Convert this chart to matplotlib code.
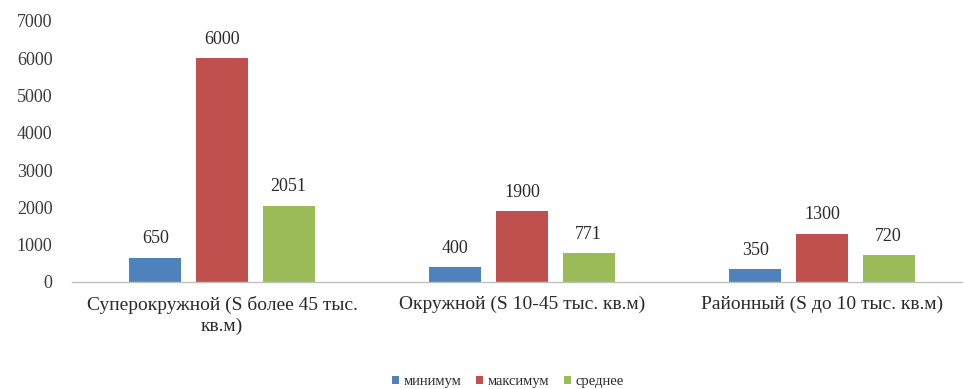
import matplotlib
matplotlib.use("Agg")
import matplotlib.pyplot as plt
import numpy as np

# Данные по типам торговых центров
categories = ["Суперокружной (S более 45 тыс.\nкв.м)",
              "Окружной (S 10-45 тыс. кв.м)",
              "Районный (S до 10 тыс. кв.м)"]
series_names = ["минимум", "максимум", "среднее"]
minimum = [650, 400, 350]
maximum = [6000, 1900, 1300]
average = [2051, 771, 720]
y_ticks = [0, 1000, 2000, 3000, 4000, 5000, 6000, 7000]

colors = ["#4F81BD", "#C0504D", "#9BBB59"]

plt.rcParams['font.family'] = ['Liberation Serif', 'DejaVu Serif']

fig = plt.figure(figsize=(9.64, 3.89), dpi=100)
W, H = 964, 389
ax = fig.add_axes([72 / W, (H - 282) / H, (962 - 72) / W, (282 - 21) / H])

x = np.arange(len(categories))
width = 0.173
step = 0.222
for i, (vals, name) in enumerate(zip([minimum, maximum, average], series_names)):
    pos = x + (i - 1) * step
    bars = ax.bar(pos, vals, width, color=colors[i], label=name)
    for b, v in zip(bars, vals):
        ax.text(b.get_x() + b.get_width() / 2, v + 280, str(v),
                ha="center", va="bottom", fontsize=13, color="#2a2a2a")

ax.set_xlim(-0.5, -0.5 + 890 / 300)
ax.set_ylim(0, 7000)
ax.set_yticks(y_ticks)
ax.set_yticklabels([str(t) for t in y_ticks], fontsize=13, color="#3a3a3a")
ax.set_xticks(x)
ax.set_xticklabels(categories, fontsize=14, color="#2a2a2a", linespacing=1.3)
ax.tick_params(axis="y", length=0, pad=14)
ax.tick_params(axis="x", length=0, pad=10)

for s in ["top", "right", "left"]:
    ax.spines[s].set_visible(False)
ax.spines["bottom"].set_color("#BFBFBF")
ax.spines["bottom"].set_linewidth(1.0)

fig.legend(loc="center", bbox_to_anchor=(508 / W, 1 - 382 / H), ncol=3,
           frameon=False, fontsize=10.5, handlelength=0.5, handleheight=0.5,
           handletextpad=0.3, columnspacing=1.0, labelcolor="#2a2a2a")

fig.savefig("out.png", dpi=100)
